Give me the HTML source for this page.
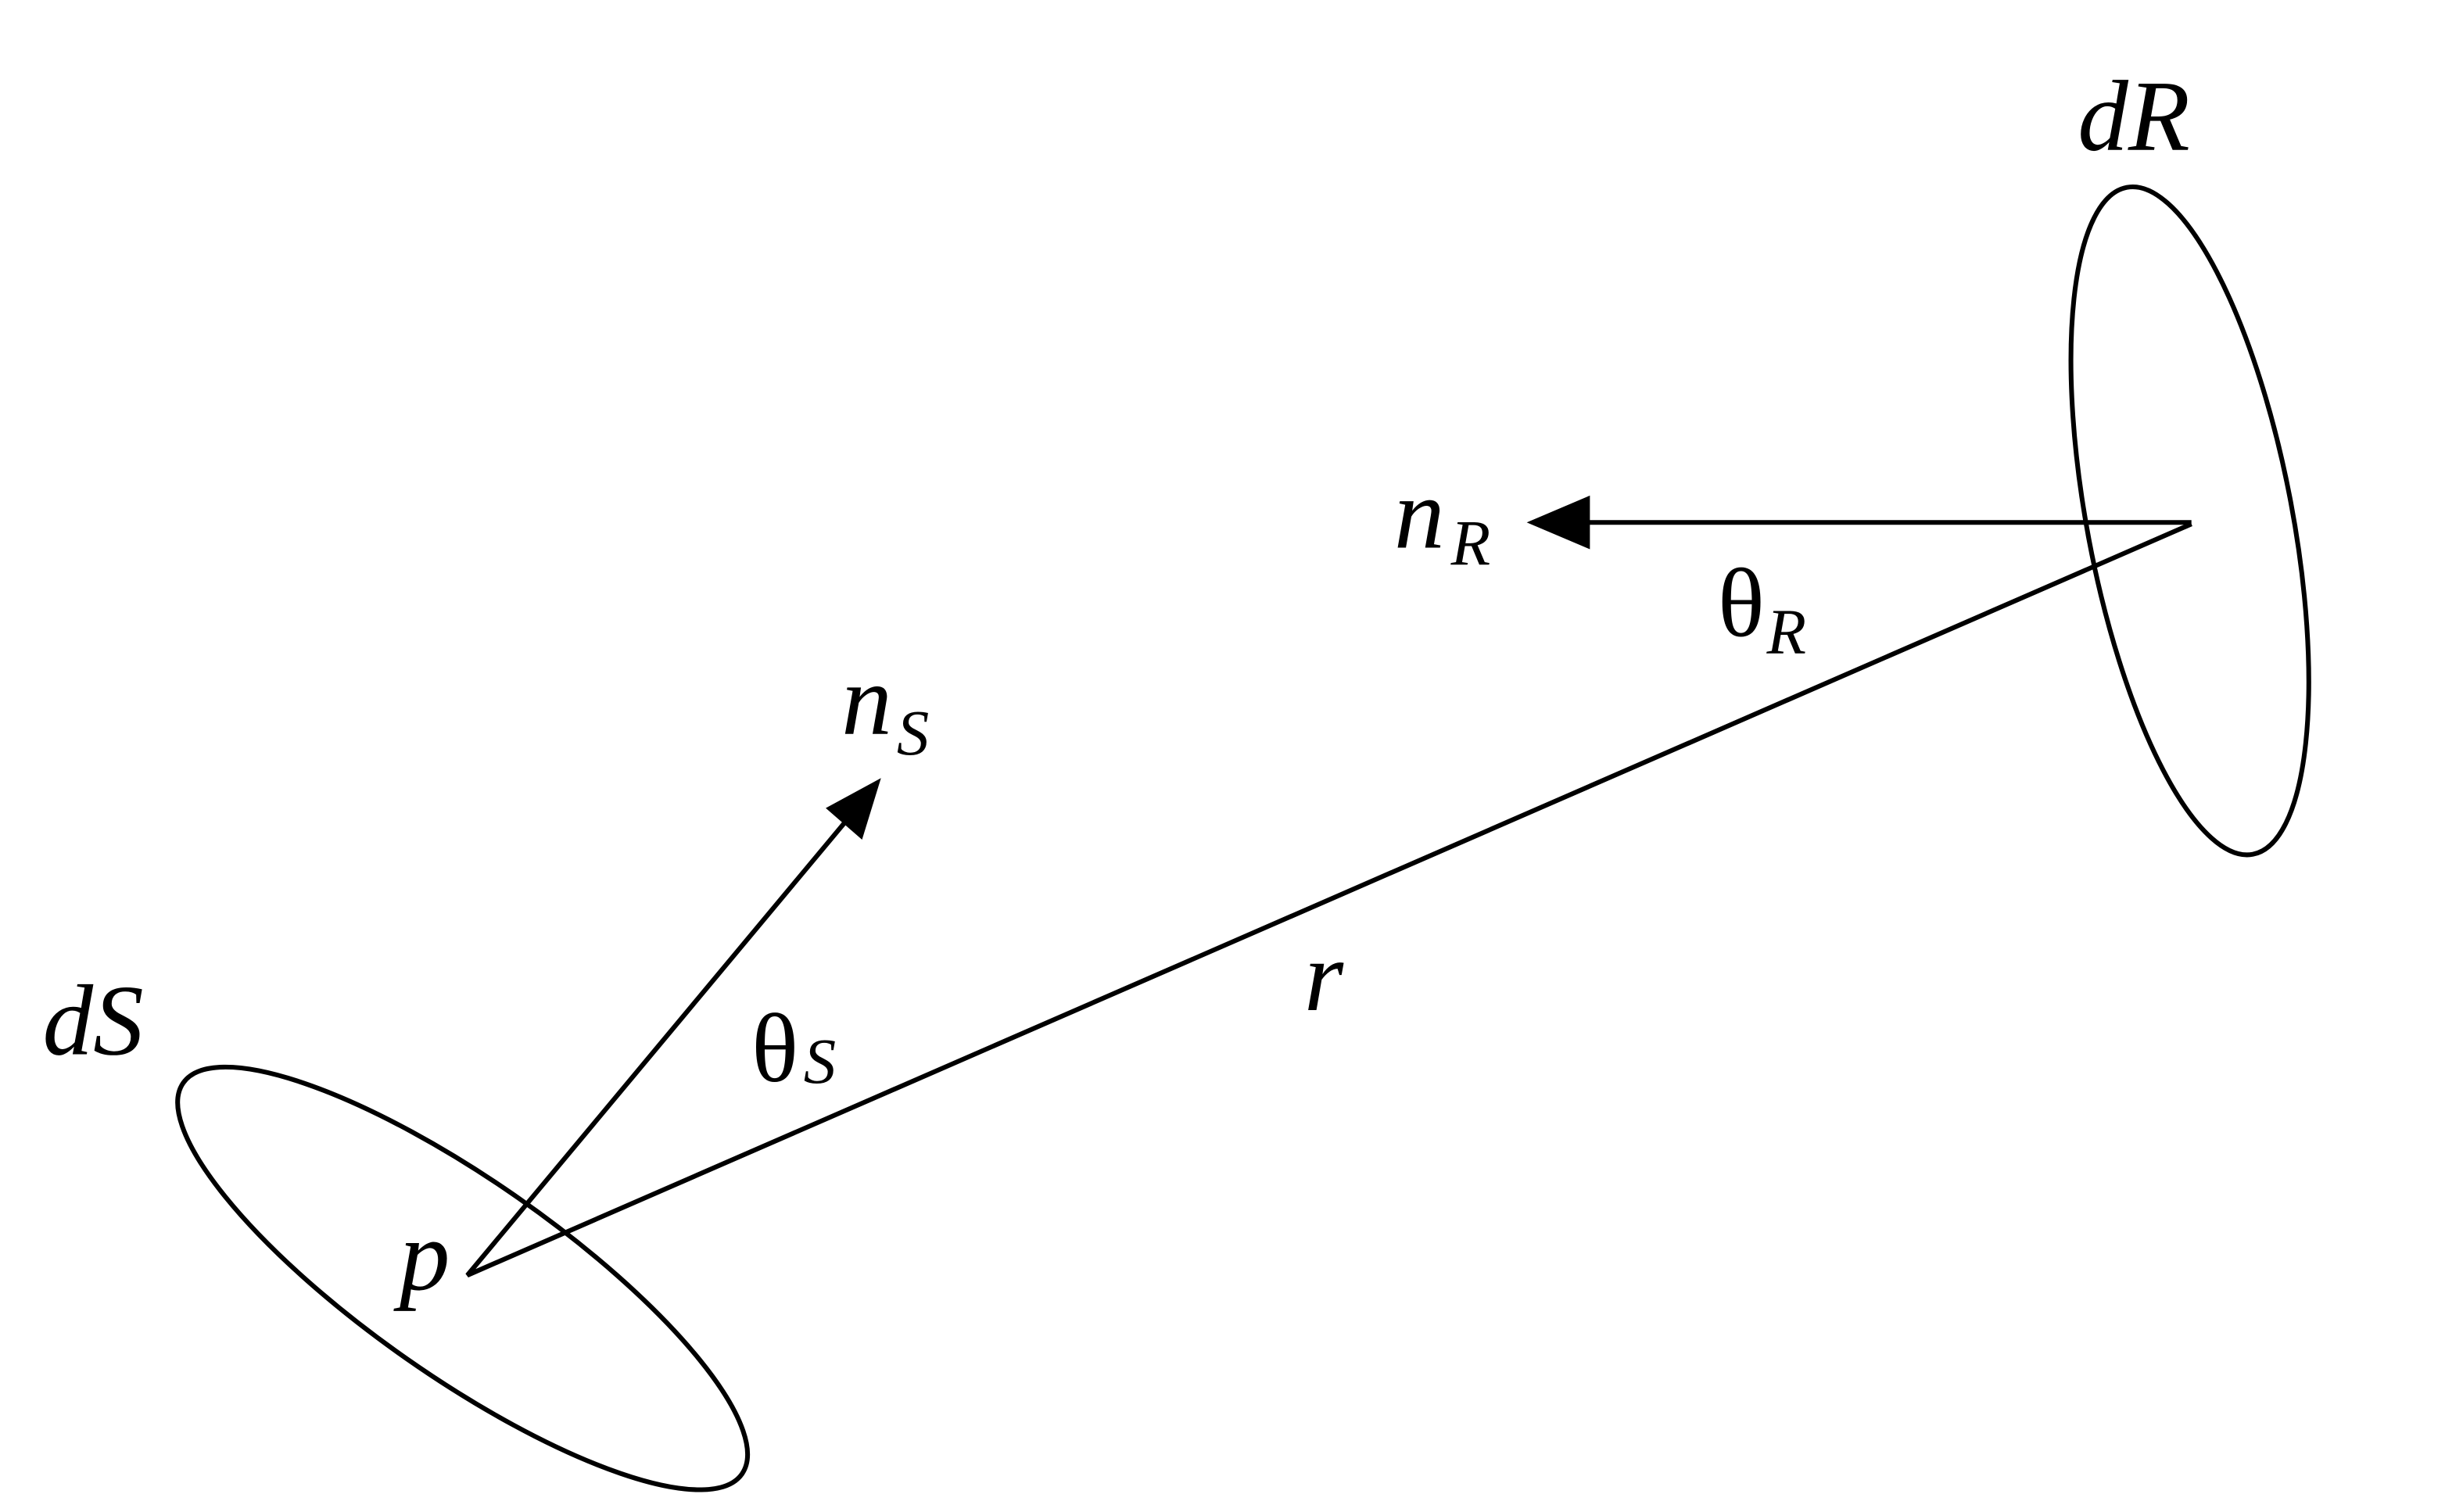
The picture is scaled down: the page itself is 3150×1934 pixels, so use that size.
<!DOCTYPE html>
<html><head><meta charset="utf-8"><style>
html,body{margin:0;padding:0;background:#fff;}
svg{display:block;}
text{font-family:"Liberation Serif",serif;fill:#000;}
.i{font-style:italic;}
</style></head><body>
<svg width="3150" height="1934" viewBox="0 0 1560 958" preserveAspectRatio="none" xmlns="http://www.w3.org/2000/svg">
<rect width="1560" height="958" fill="#fff"/>
<g fill="none" stroke="#000" stroke-width="3">
<ellipse cx="293" cy="810" rx="216" ry="62" transform="rotate(35 293 810)"/>
<ellipse cx="1387" cy="330" rx="65" ry="215" transform="rotate(-10.7 1387 330)"/>
<polyline points="1388,331 1003,331"/>
<polyline points="536,520 296,808 1388,332"/>
</g>
<polygon points="967,331 1007,314 1007,348" fill="#000"/>
<polygon points="558,493 523,512 546,532" fill="#000"/>
<text class="i" x="1316" y="95" font-size="64">dR</text>
<text class="i" x="883" y="347" font-size="64">n</text>
<text class="i" x="919" y="358" font-size="41">R</text>
<text x="1088" y="403" font-size="62">θ</text>
<text class="i" x="1119" y="414" font-size="41">R</text>
<text class="i" x="533" y="465" font-size="64">n</text>
<text class="i" x="568" y="478" font-size="41">S</text>
<text x="476" y="685" font-size="62">θ</text>
<text class="i" x="509" y="686" font-size="41">S</text>
<text class="i" x="826" y="640" font-size="64">r</text>
<text class="i" x="27" y="668" font-size="64">dS</text>
<text class="i" x="253" y="817" font-size="64">p</text>
</svg>
</body></html>
